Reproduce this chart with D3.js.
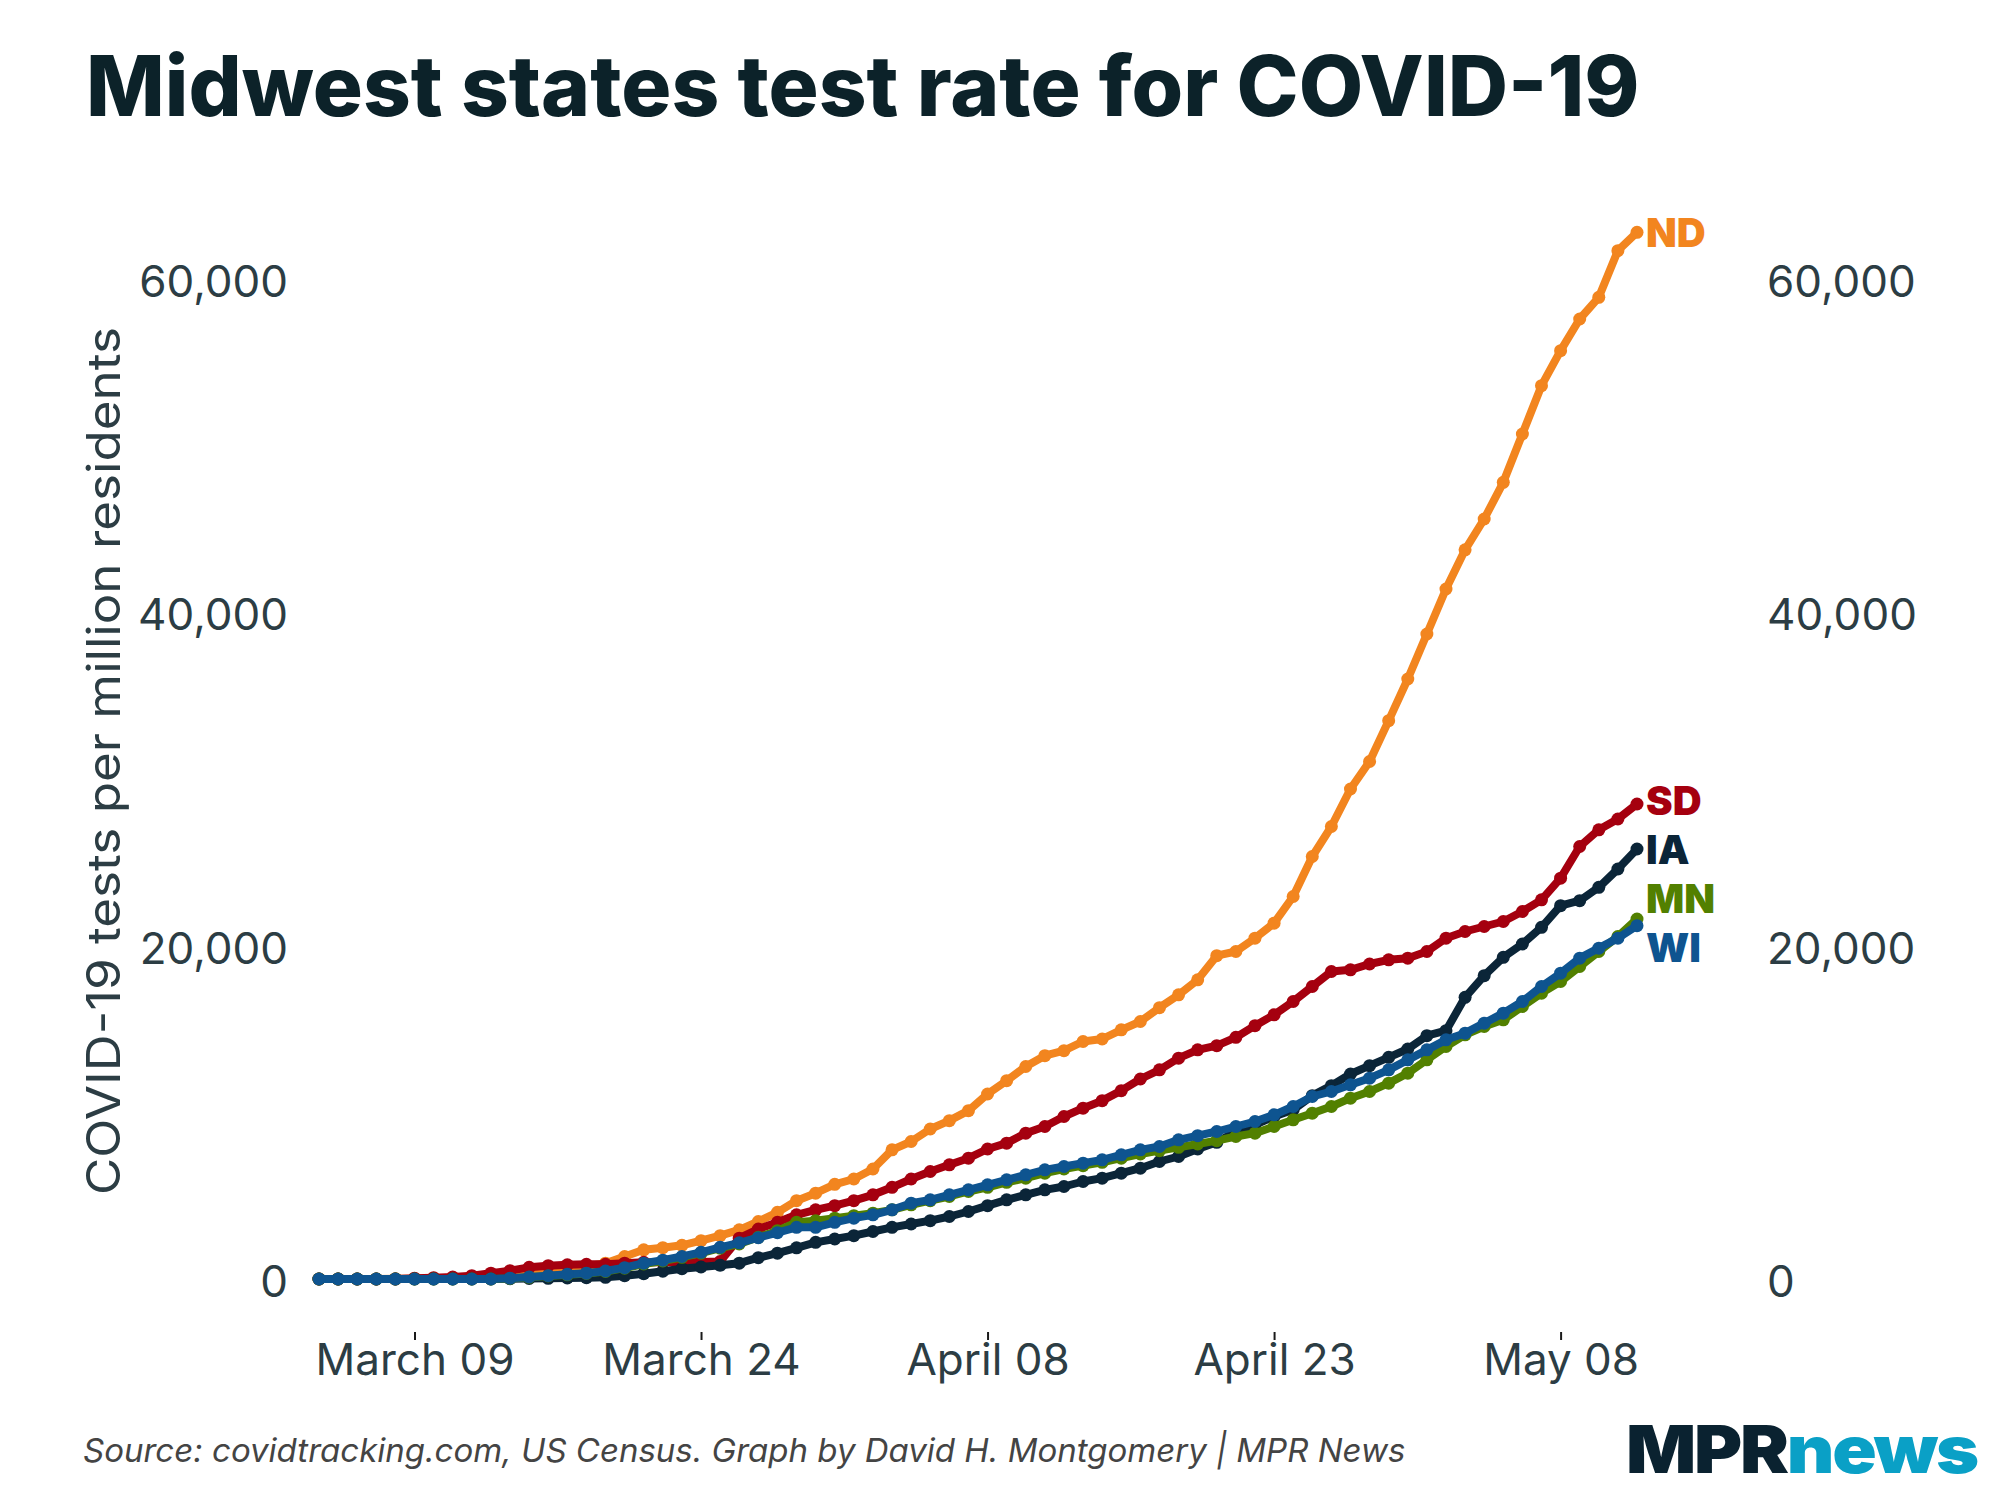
<!DOCTYPE html>
<html lang="en">
<head>
<meta charset="UTF-8">
<title>Midwest states test rate for COVID-19</title>
<script src="https://d3js.org/d3.v7.min.js"></script>
<style>
  body { margin: 0; background: #fff; }
  text { font-family: Inter, "Noto Sans", sans-serif; }
</style>
</head>
<body>
<div id="chart"></div>
<script>
// first day of the series, one value per day after it
const startDate = "2020-03-04";

const states = ["ND", "SD", "IA", "MN", "WI"];
const colors = ["#f2851f", "#a5000f", "#0b2538", "#528000", "#0e5490"];

// tests per million residents, March 4 .. May 12
const ndValues = [0, 0, 0, 0, 10, 20, 40, 60, 100, 200, 350, 500, 600, 650, 750,
  950, 1350, 1750, 1880, 2020, 2300, 2600, 2950, 3450, 4000, 4700, 5150, 5680, 6000, 6600,
  7750, 8250, 9000, 9500, 10100, 11100, 11900, 12750, 13400, 13700, 14250, 14400, 14950, 15450, 16280,
  17050, 17950, 19400, 19650, 20450, 21350, 22950, 25350, 27150, 29400, 31050, 33500, 36000, 38700, 41400,
  43750, 45600, 47800, 50700, 53600, 55700, 57600, 58900, 61700, 62800];
const sdValues = [0, 0, 0, 0, 0, 50, 80, 120, 200, 350, 500, 700, 800, 850, 880,
  880, 950, 1000, 1000, 1000, 1020, 1050, 2450, 3000, 3400, 3850, 4150, 4400, 4700, 5050,
  5500, 6000, 6450, 6850, 7250, 7800, 8150, 8750, 9150, 9750, 10250, 10700, 11300, 12000, 12550,
  13250, 13750, 14000, 14500, 15200, 15850, 16650, 17550, 18450, 18550, 18900, 19150, 19250, 19650, 20450,
  20850, 21150, 21450, 22050, 22750, 24050, 25950, 26950, 27600, 28500];
const iaValues = [0, 0, 0, 0, 0, 0, 0, 0, 0, 0, 20, 30, 40, 60, 80,
  100, 200, 320, 470, 620, 720, 820, 950, 1280, 1550, 1870, 2200, 2400, 2600, 2850,
  3100, 3300, 3500, 3750, 4050, 4400, 4750, 5050, 5350, 5550, 5850, 6050, 6350, 6650, 7050,
  7350, 7800, 8200, 8850, 9250, 9750, 10150, 11000, 11600, 12300, 12800, 13300, 13800, 14600, 14900,
  16900, 18200, 19300, 20100, 21100, 22400, 22700, 23500, 24600, 25800];
const mnValues = [0, 0, 0, 0, 0, 0, 0, 0, 0, 0, 30, 100, 180, 250, 330,
  450, 650, 900, 1080, 1300, 1550, 1850, 2100, 2500, 2900, 3400, 3500, 3650, 3800, 3950,
  4150, 4450, 4700, 4950, 5250, 5500, 5800, 6050, 6350, 6600, 6800, 7000, 7250, 7500, 7700,
  7900, 8100, 8300, 8550, 8750, 9150, 9550, 9950, 10350, 10850, 11250, 11750, 12350, 13150, 13950,
  14650, 15150, 15550, 16350, 17150, 17850, 18750, 19650, 20550, 21600];
const wiValues = [0, 0, 0, 0, 0, 0, 0, 0, 0, 0, 50, 120, 200, 280, 350,
  480, 680, 950, 1130, 1350, 1600, 1900, 2170, 2480, 2780, 3100, 3100, 3400, 3650, 3850,
  4150, 4550, 4750, 5050, 5350, 5650, 5950, 6250, 6550, 6750, 6950, 7150, 7450, 7750, 7950,
  8350, 8600, 8850, 9150, 9450, 9850, 10350, 10950, 11250, 11650, 12050, 12550, 13150, 13750, 14350,
  14750, 15350, 15950, 16650, 17550, 18350, 19250, 19850, 20450, 21200];

const yTicks = [0, 20000, 40000, 60000];
const xTicks = ["2020-03-09", "2020-03-24", "2020-04-08", "2020-04-23", "2020-05-08"];

const titleText = "Midwest states test rate for COVID-19";
const yTitle = "COVID-19 tests per million residents";
const sourceText = "Source: covidtracking.com, US Census. Graph by David H. Montgomery | MPR News";

// ---- set up
const W = 2000, H = 1500;
const parse = d3.utcParse("%Y-%m-%d");
const start = parse(startDate);
const allValues = [ndValues, sdValues, iaValues, mnValues, wiValues];
const dates = ndValues.map((v, i) => d3.utcDay.offset(start, i));

const series = states.map((s, i) => ({
  key: s,
  color: colors[i],
  points: allValues[i].map((v, j) => ({ date: dates[j], value: v }))
}));

const svg = d3.select('#chart').append('svg')
  .attr('width', W).attr('height', H);
svg.append('rect').attr('width', W).attr('height', H).attr('fill', '#fff');

const x = d3.scaleUtc()
  .domain([dates[0], dates[dates.length - 1]])
  .range([319, 1637]);
const y = d3.scaleLinear()
  .domain([0, 60000])
  .range([1279, 279]);

// title
svg.append('text')
  .attr('x', 86).attr('y', 116)
  .style('font-size', '83.5px').style('font-weight', 800)
  .attr('fill', '#0c2229')
  .text(titleText);

// y axes, both sides, no lines
const axisColor = '#2c3d44';
const leftAxis = svg.append('g')
  .attr('transform', 'translate(300,0)')
  .call(d3.axisLeft(y).tickValues(yTicks).tickSize(0).tickPadding(12).tickFormat(d3.format(',')));
const rightAxis = svg.append('g')
  .attr('transform', 'translate(1755,0)')
  .call(d3.axisRight(y).tickValues(yTicks).tickSize(0).tickPadding(12).tickFormat(d3.format(',')));
[leftAxis, rightAxis].forEach(g => {
  g.select('.domain').remove();
  g.selectAll('text')
    .attr('dy', '0.4em')
    .style('font-size', '44px')
    .style('font-family', 'Inter, sans-serif')
    .attr('fill', axisColor);
});

// y title
svg.append('text')
  .attr('transform', 'translate(120,761) rotate(-90)')
  .attr('text-anchor', 'middle')
  .attr('textLength', 868)
  .attr('lengthAdjust', 'spacingAndGlyphs')
  .style('font-size', '46px')
  .attr('fill', axisColor)
  .text(yTitle);

// x axis
const xAxis = svg.append('g')
  .attr('transform', 'translate(0,1332)')
  .call(d3.axisBottom(x).tickValues(xTicks.map(parse)).tickSize(8).tickPadding(4)
    .tickFormat(d3.utcFormat('%B %d')));
xAxis.select('.domain').remove();
xAxis.selectAll('line').attr('stroke', '#1a1a1a').attr('stroke-width', 2);
xAxis.selectAll('text')
  .style('font-size', '44px')
  .style('font-family', 'Inter, sans-serif')
  .attr('fill', axisColor);

// lines with dots
const line = d3.line()
  .x(d => x(d.date))
  .y(d => y(d.value));

series.forEach(s => {
  const g = svg.append('g');
  g.append('path')
    .datum(s.points)
    .attr('fill', 'none')
    .attr('stroke', s.color)
    .attr('stroke-width', 8)
    .attr('stroke-linejoin', 'round')
    .attr('d', line);
  g.selectAll('circle')
    .data(s.points)
    .enter()
    .append('circle')
    .attr('cx', d => x(d.date))
    .attr('cy', d => y(d.value))
    .attr('r', 6.5)
    .attr('fill', s.color);
});

// end labels, nudged apart so they don't overlap
const labels = series.map(s => {
  const last = s.points[s.points.length - 1];
  return { key: s.key, color: s.color, x: x(last.date) + 9, y: y(last.value) };
}).sort((a, b) => a.y - b.y);
const gap = 49;
for (let it = 0; it < 50; it++) {
  for (let i = 1; i < labels.length; i++) {
    const overlap = labels[i - 1].y + gap - labels[i].y;
    if (overlap > 0) {
      labels[i - 1].y -= overlap / 2;
      labels[i].y += overlap / 2;
    }
  }
}
svg.selectAll('.end-label')
  .data(labels)
  .enter()
  .append('text')
  .attr('class', 'end-label')
  .attr('x', d => d.x)
  .attr('y', d => d.y)
  .attr('dy', '0.36em')
  .style('font-size', '40px')
  .style('font-weight', 900)
  .attr('fill', d => d.color)
  .text(d => d.key);

// source line
svg.append('text')
  .attr('x', 83).attr('y', 1462)
  .style('font-size', '33px')
  .style('font-style', 'italic')
  .attr('fill', '#444')
  .text(sourceText);

// logo
const logo = svg.append('text')
  .attr('x', 1626).attr('y', 1473)
  .attr('textLength', 351)
  .attr('lengthAdjust', 'spacingAndGlyphs')
  .style('font-size', '66px')
  .style('font-weight', 900)
  .style('letter-spacing', '-2px');
logo.append('tspan').attr('fill', '#0a2230').text('MPR');
logo.append('tspan').attr('fill', '#0aa0c6').text('news');
</script>
</body>
</html>
